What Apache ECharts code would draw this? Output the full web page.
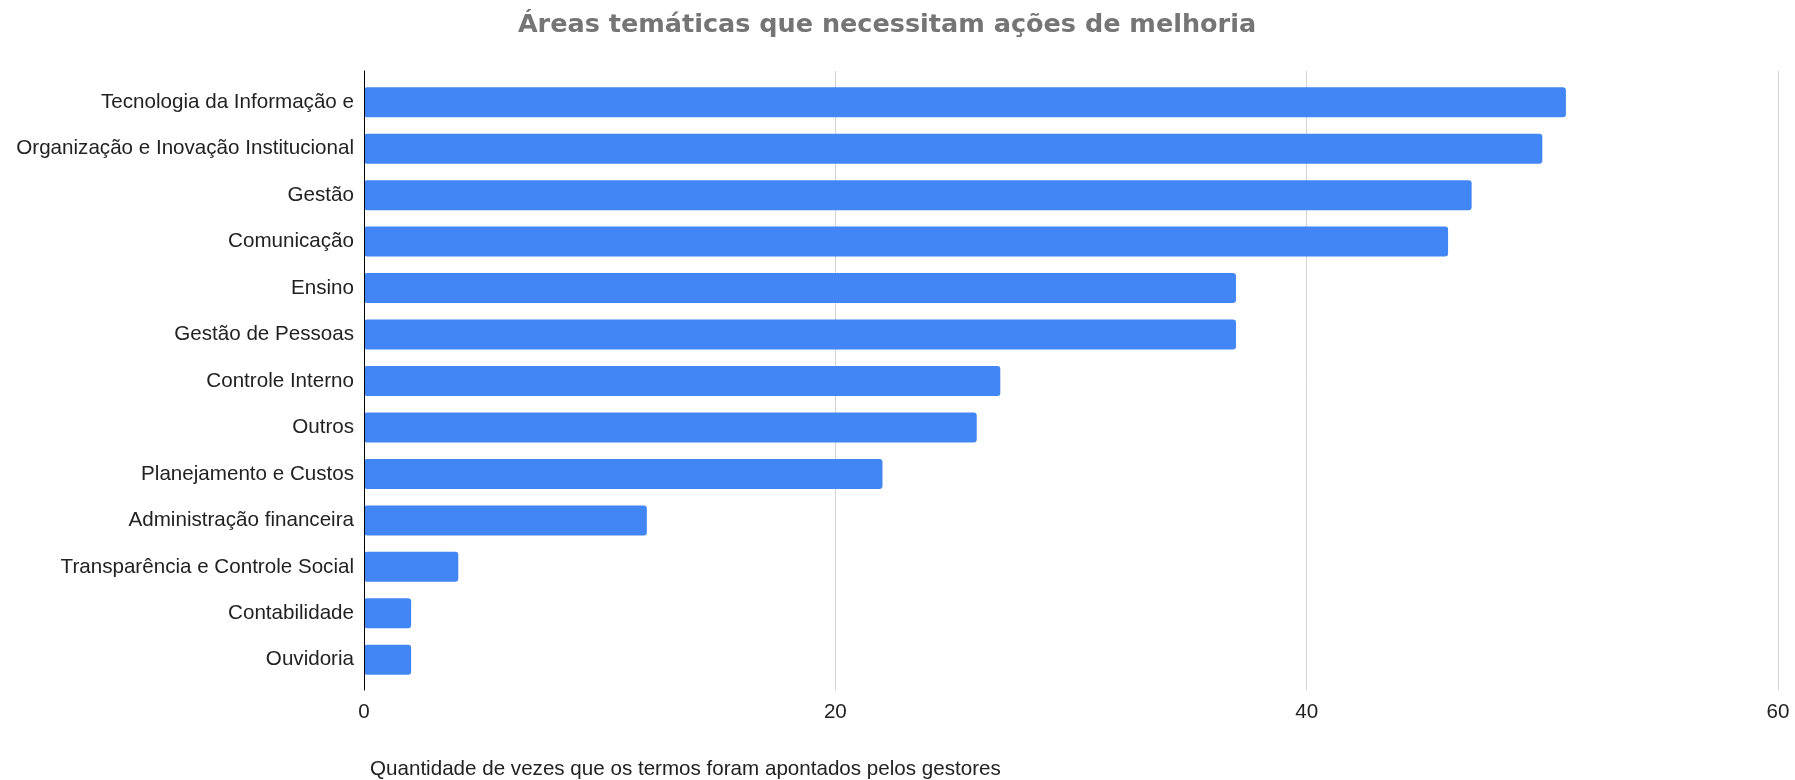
<!DOCTYPE html>
<html>
<head>
<meta charset="utf-8">
<script src="https://cdn.jsdelivr.net/npm/echarts@6/dist/echarts.min.js"></script>
<style>
  html, body { margin: 0; padding: 0; background: #ffffff; }
  #chart { width: 1795px; height: 780px; }
</style>
</head>
<body>
<div id="chart"></div>
<script>
// Thematic areas, listed from the most to the least cited
const categories = [
  'Tecnologia da Informação e',
  'Organização e Inovação Institucional',
  'Gestão',
  'Comunicação',
  'Ensino',
  'Gestão de Pessoas',
  'Controle Interno',
  'Outros',
  'Planejamento e Custos',
  'Administração financeira',
  'Transparência e Controle Social',
  'Contabilidade',
  'Ouvidoria'
];

// How many times each term was mentioned by the managers
const counts = [51, 50, 47, 46, 37, 37, 27, 26, 22, 12, 4, 2, 2];

// Value axis range and ticks
const axisMin = 0;
const axisMax = 60;
const axisStep = 20;

const chartTitle = 'Áreas temáticas que necessitam ações de melhoria';
const axisTitle = 'Quantidade de vezes que os termos foram apontados pelos gestores';

const chart = echarts.init(document.getElementById('chart'), null, { renderer: 'canvas' });

const labelFont = {
  fontFamily: '"Liberation Sans", Arial, sans-serif',
  fontSize: 20.6,
  color: '#222222'
};

chart.setOption({
  animation: false,
  backgroundColor: '#ffffff',
  title: [
    {
      text: chartTitle,
      left: 887,
      top: 12,
      padding: 0,
      textAlign: 'center',
      textStyle: {
        fontFamily: '"DejaVu Sans", Verdana, sans-serif',
        fontWeight: 'bold',
        fontSize: 25.5,
        color: '#757575'
      }
    },
    {
      text: axisTitle,
      left: 370,
      top: 759,
      padding: 0,
      textStyle: Object.assign({ fontWeight: 'normal' }, labelFont)
    }
  ],
  grid: [
    // frame: gridlines, ticks and the baseline
    { left: 364, right: 17, top: 71, bottom: 90 },
    // bars and category labels
    { left: 364, right: 17, top: 79, bottom: 97 }
  ],
  xAxis: [
    {
      gridIndex: 0,
      type: 'value',
      min: axisMin,
      max: axisMax,
      interval: axisStep,
      axisLine: { show: false },
      axisTick: { show: false },
      axisLabel: Object.assign({ margin: 12 }, labelFont),
      splitLine: {
        show: true,
        lineStyle: { color: '#d3d3d3', width: 1 }
      },
      showMinLine: false
    },
    {
      gridIndex: 1,
      type: 'value',
      min: axisMin,
      max: axisMax,
      interval: axisStep,
      show: false,
      splitLine: { show: false }
    }
  ],
  yAxis: [
    {
      gridIndex: 0,
      type: 'value',
      min: 0,
      max: 1,
      z: 10,
      axisLine: { show: true, onZero: false, lineStyle: { color: '#000000', width: 1 } },
      axisTick: { show: false },
      axisLabel: { show: false },
      splitLine: { show: false }
    },
    {
      gridIndex: 1,
      type: 'category',
      data: categories,
      inverse: true,
      axisLine: { show: false },
      axisTick: { show: false },
      axisLabel: Object.assign({ margin: 10 }, labelFont),
      splitLine: { show: false }
    }
  ],
  series: [
    {
      type: 'bar',
      xAxisIndex: 1,
      yAxisIndex: 1,
      data: counts,
      barWidth: 30,
      itemStyle: {
        color: '#4285F4',
        borderRadius: 3
      }
    }
  ]
});
</script>
</body>
</html>
